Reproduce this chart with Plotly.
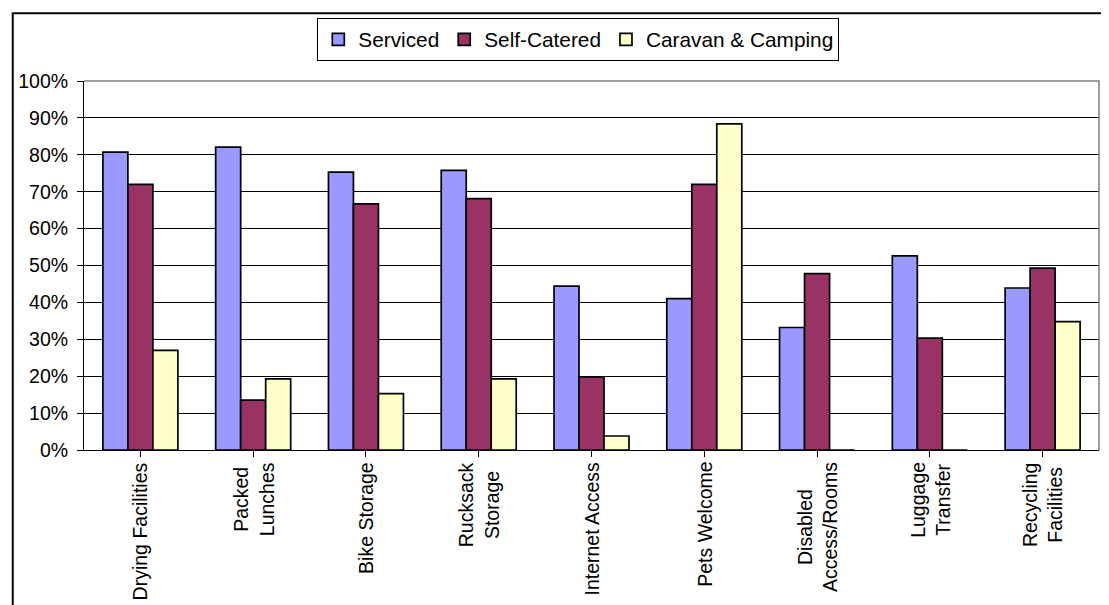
import plotly.graph_objects as go

categories = ["Drying Facilities", "Packed<br>Lunches", "Bike Storage", "Rucksack<br>Storage",
              "Internet Access", "Pets Welcome", "Disabled<br>Access/Rooms", "Luggage<br>Transfer",
              "Recycling<br>Facilities"]
serviced = [0.807, 0.821, 0.753, 0.758, 0.444, 0.410, 0.332, 0.526, 0.439]
self_catered = [0.720, 0.135, 0.667, 0.681, 0.198, 0.720, 0.478, 0.303, 0.493]
caravan = [0.270, 0.193, 0.153, 0.193, 0.038, 0.884, 0.0, 0.0, 0.348]
series_names = ["Serviced", "Self-Catered", "Caravan & Camping"]
colors = ["#9999FF", "#993366", "#FFFFCC"]
y_ticks = [i / 10 for i in range(11)]

FONT = "Liberation Sans, Arial, sans-serif"
x_idx = list(range(len(categories)))

fig = go.Figure()
for name, vals, col in zip(series_names, [serviced, self_catered, caravan], colors):
    fig.add_trace(go.Bar(x=x_idx, y=vals, name=name,
                         marker=dict(color=col, line=dict(color="black", width=1.7))))

# page body has an 8px margin: figure is drawn at (8, 8)
fig.update_layout(
    width=1101, height=597,
    margin=dict(l=73, r=10, t=66, b=155),
    paper_bgcolor="white", plot_bgcolor="white",
    barmode="group", bargap=0.335, bargroupgap=0,
    font=dict(family=FONT, size=19.5, color="black"),
    legend=dict(orientation="h", x=0.487, xanchor="center", y=1.170, yanchor="top",
                bordercolor="black", borderwidth=1, font=dict(size=20.8, family=FONT),
                itemwidth=30, tracegroupgap=0),
    showlegend=True,
)
fig.update_xaxes(range=[-0.5, len(categories) - 0.5], showgrid=False,
                 tickmode="array", tickvals=x_idx, showticklabels=False,
                 ticks="outside", tickson="boundaries", ticklen=6, tickcolor="black",
                 showline=True, linecolor="black", linewidth=1, zeroline=False)
fig.update_yaxes(range=[0, 1], tickmode="array", tickvals=y_ticks,
                 ticktext=[f"{int(round(v*100))}%" for v in y_ticks],
                 showgrid=True, gridcolor="black", gridwidth=1,
                 ticks="outside", ticklen=6, tickcolor="black", ticklabelstandoff=5,
                 showline=True, linecolor="black", linewidth=1, zeroline=False,
                 tickfont=dict(size=19.5, family=FONT))

for i, cat in enumerate(categories):
    fig.add_annotation(x=i, xref="x", y=0, yref="paper", yshift=-10,
                       text=cat, showarrow=False, textangle=-90,
                       xanchor="center", yanchor="top", align="center",
                       font=dict(size=19.5, family=FONT, color="black"))

# plot-area border (top and right, gray)
fig.add_shape(type="path", xref="paper", yref="paper",
              path="M 0 1 L 1 1 L 1 0", line=dict(color="#808080", width=1.5), layer="above")
# outer chart frame
fig.add_shape(type="rect", xref="paper", yref="paper",
              x0=-0.0702, x1=1.03, y0=-0.45, y1=1.1835,
              line=dict(color="black", width=2), layer="above")

fig.write_html("out.html")
